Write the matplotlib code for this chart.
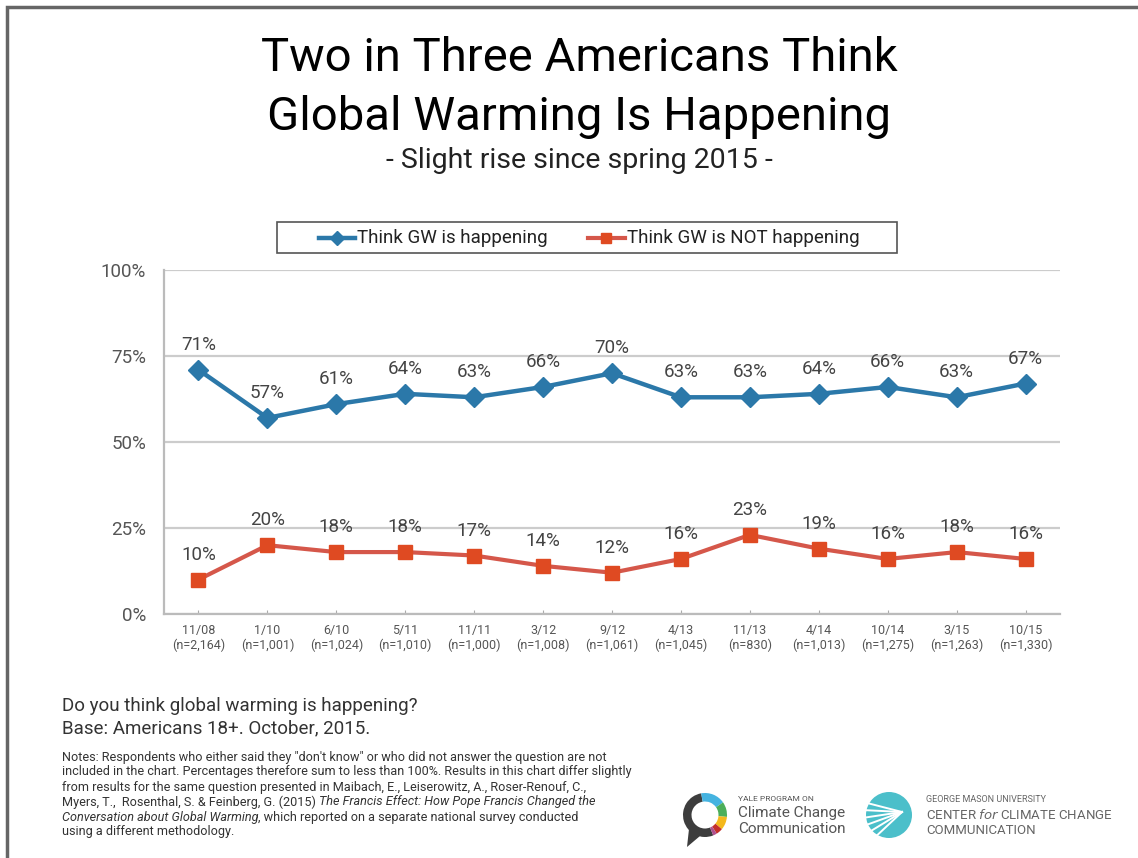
import numpy as np
import matplotlib
matplotlib.use("Agg")
import matplotlib.pyplot as plt
from matplotlib.patches import Wedge, Circle, Rectangle, Polygon
from matplotlib.lines import Line2D

plt.rcParams['font.family'] = ['Roboto', 'DejaVu Sans']

# survey waves and results
dates = ['11/08', '1/10', '6/10', '5/11', '11/11', '3/12', '9/12',
         '4/13', '11/13', '4/14', '10/14', '3/15', '10/15']
sample_sizes = ['2,164', '1,001', '1,024', '1,010', '1,000', '1,008', '1,061',
                '1,045', '830', '1,013', '1,275', '1,263', '1,330']
happening = [71, 57, 61, 64, 63, 66, 70, 63, 63, 64, 66, 63, 67]
not_happening = [10, 20, 18, 18, 17, 14, 12, 16, 23, 19, 16, 18, 16]
y_ticks = [0, 25, 50, 75, 100]

BLUE = '#2b78a9'
RED_LINE = '#d5574a'
RED_MARK = '#df4a22'
TEXT = '#444444'

W, H = 1138, 858
fig = plt.figure(figsize=(W / 100, H / 100), dpi=100)

# pixel-coordinate overlay for titles, notes, legend and logos
ov = fig.add_axes([0, 0, 1, 1])
ov.set_xlim(0, W)
ov.set_ylim(H, 0)
ov.set_facecolor('none')
ov.axis('off')

# chart area
ax = fig.add_axes([164 / W, 1 - 614 / H, (1060 - 164) / W, (614 - 270) / H])
x = np.arange(len(dates))
ax.plot(x, happening, color=BLUE, lw=3.2, marker='D', ms=10, mec=BLUE, mfc=BLUE, zorder=3, clip_on=False)
ax.plot(x, not_happening, color=RED_LINE, lw=3.0, marker='s', ms=10, mec=RED_MARK, mfc=RED_MARK, zorder=3, clip_on=False)

for xi, v in zip(x, happening):
    ax.annotate(f'{v}%', (xi, v), xytext=(0, 18), textcoords='offset points',
                ha='center', va='center', fontsize=13.5, color=TEXT)
for xi, v in zip(x, not_happening):
    ax.annotate(f'{v}%', (xi, v), xytext=(0, 18), textcoords='offset points',
                ha='center', va='center', fontsize=13.5, color=TEXT)

ax.set_xlim(-0.5, len(dates) - 0.5)
ax.set_ylim(0, 100)
ax.set_yticks(y_ticks)
ax.set_yticklabels([f'{t}%' for t in y_ticks])
ax.set_xticks(x)
ax.set_xticklabels([f'{d}\n(n={n})' for d, n in zip(dates, sample_sizes)], linespacing=1.2)
ax.tick_params(axis='y', length=0, pad=13, labelsize=13.5, labelcolor='#555555')
ax.tick_params(axis='x', direction='in', length=3, color='#aaaaaa', pad=7, labelsize=9, labelcolor='#555555')
ax.yaxis.grid(True, color='#cccccc', lw=1.6)
ax.set_axisbelow(True)
for side in ['top', 'right']:
    ax.spines[side].set_visible(False)
for side in ['left', 'bottom']:
    ax.spines[side].set_color('#bbbbbb')
    ax.spines[side].set_linewidth(1.6)
ax.set_facecolor('none')

# slide frame
ov.plot([7, 7, W], [H, 7, 7], color='#666666', lw=2.5, solid_joinstyle='miter')

# titles
ov.text(579, 58, 'Two in Three Americans Think', ha='center', va='center', fontsize=34, color='black')
ov.text(579, 117, 'Global Warming Is Happening', ha='center', va='center', fontsize=34, color='black')
ov.text(579, 160, '- Slight rise since spring 2015 -', ha='center', va='center', fontsize=20.5, color='#222222')

# legend box
ov.add_patch(Rectangle((277, 222), 620, 31, facecolor='white', edgecolor='#555555', lw=1.2, zorder=2))
ov.add_line(Line2D([319, 355], [238, 238], color=BLUE, lw=3.2, zorder=3))
ov.add_line(Line2D([337], [238], color=BLUE, marker='D', ms=7, zorder=3))
ov.text(357, 238, 'Think GW is happening', ha='left', va='center', fontsize=13.5, color='#222222', zorder=3)
ov.add_line(Line2D([588, 625], [238, 238], color=RED_LINE, lw=3.0, zorder=3))
ov.add_line(Line2D([606], [238], color=RED_MARK, marker='s', ms=7, zorder=3))
ov.text(627, 238, 'Think GW is NOT happening', ha='left', va='center', fontsize=13.5, color='#222222', zorder=3)

# question and base
ov.text(62, 706, 'Do you think global warming is happening?', ha='left', va='center', fontsize=13.5, color='#333333')
ov.text(62, 728, 'Base: Americans 18+. October, 2015.', ha='left', va='center', fontsize=13.5, color='#333333')

# notes
note_kw = dict(ha='left', va='center', fontsize=9.1, color='#333333')
ov.text(62, 757, 'Notes: Respondents who either said they "don\'t know" or who did not answer the question are not', **note_kw)
ov.text(62, 772, 'included in the chart. Percentages therefore sum to less than 100%. Results in this chart differ slightly', **note_kw)
ov.text(62, 787, 'from results for the same question presented in Maibach, E., Leiserowitz, A., Roser-Renouf, C.,', **note_kw)
t4 = ov.text(62, 802, 'Myers, T.,  Rosenthal, S. & Feinberg, G. (2015) ', **note_kw)
ov.annotate('The Francis Effect: How Pope Francis Changed the', xy=(1, 0.5), xycoords=t4,
            style='italic', **note_kw)
t5 = ov.text(62, 817, 'Conversation about Global Warming', style='italic', **note_kw)
ov.annotate(', which reported on a separate national survey conducted', xy=(1, 0.5), xycoords=t5, **note_kw)
ov.text(62, 832, 'using a different methodology.', **note_kw)


# Yale ring logo (y axis is inverted, so visual angles are negated)
def ring(cx, cy, r, w, a1, a2, color):
    ov.add_patch(Wedge((cx, cy), r, -a2, -a1, width=w, facecolor=color, edgecolor='none'))


cx, cy = 705, 815
ring(cx, cy, 22, 8.5, 100, 292, '#3d3d3d')
ring(cx, cy, 22, 8.5, 35, 100, '#45b3e0')
ring(cx, cy, 22, 8.5, -5, 35, '#4cae5a')
ring(cx, cy, 22, 8.5, -40, -5, '#f4b81c')
ring(cx, cy, 22, 8.5, -58, -40, '#c4302b')
ring(cx, cy, 22, 8.5, -68, -58, '#b0508f')
ov.add_patch(Polygon([[689, 829], [700, 836], [687, 847]], closed=True, facecolor='#3d3d3d', edgecolor='none'))
ov.text(738, 799, 'YALE PROGRAM ON', ha='left', va='center', fontsize=6, color='#555555')
ov.text(738, 813, 'Climate Change', ha='left', va='center', fontsize=11, color='#555555')
ov.text(738, 829, 'Communication', ha='left', va='center', fontsize=11, color='#555555')

# George Mason shell logo
gx, gy, gr = 889, 815, 23
ov.add_patch(Circle((gx, gy), gr, facecolor='#4bbfca', edgecolor='none'))
for a in [150, 168, 186, 204, 222, 240]:
    t = np.radians(a)
    ov.add_line(Line2D([gx + 13, gx + gr * np.cos(t)], [gy - 3, gy - gr * np.sin(t)],
                       color='white', lw=1.4))
ov.text(926, 800, 'GEORGE MASON UNIVERSITY', ha='left', va='center', fontsize=6.5, color='#666666')
ov.text(926, 815, 'CENTER $\\it{for}$ CLIMATE CHANGE', ha='left', va='center', fontsize=9.5, color='#666666')
ov.text(926, 830, 'COMMUNICATION', ha='left', va='center', fontsize=9.5, color='#666666')

fig.savefig('out.png', dpi=100)
